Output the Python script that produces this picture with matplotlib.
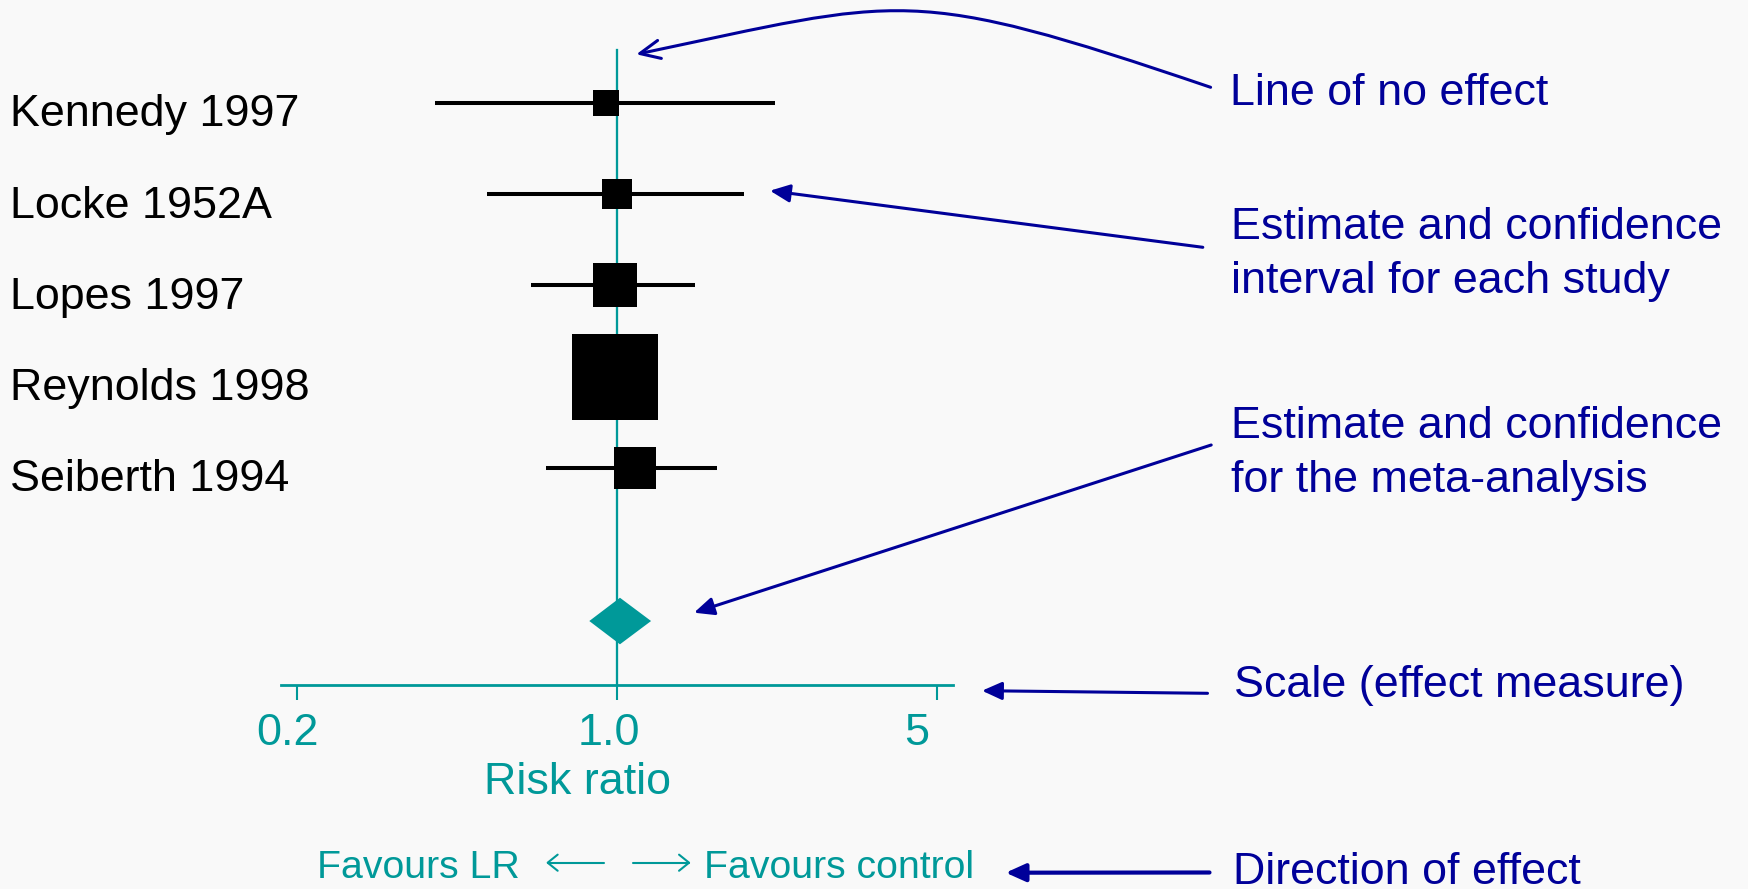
import matplotlib
matplotlib.use("Agg")
import matplotlib.pyplot as plt
import matplotlib.transforms as mtransforms
from matplotlib.patches import Polygon, FancyArrowPatch
from matplotlib.path import Path
from matplotlib.ticker import NullLocator

OUTPUT_FIG = "out.png"
W, H, DPI = 1748, 889, 100

STUDIES = ["Kennedy 1997", "Locke 1952A", "Lopes 1997", "Reynolds 1998", "Seiberth 1994"]
RISK_RATIO = [0.947, 1.00, 0.99, 0.99, 1.095]
CI_LOW = [0.40, 0.52, 0.65, 0.85, 0.70]
CI_HIGH = [2.21, 1.89, 1.48, 1.15, 1.65]
WEIGHTS = [5.5, 6.9, 15.3, 59.0, 13.3]  # % weight, drives the square size

POOLED = 1.015
POOLED_LOW = 0.87
POOLED_HIGH = 1.187

TICKS = [0.2, 1.0, 5.0]
TICK_LABELS = ["0.2", "1.0", "5"]

TEAL = "#009999"
NAVY = "#000099"
BG = "#F9F9F9"
FONT = ["Liberation Sans", "DejaVu Sans"]
FS = 32.3
FS_SMALL = 28.3


def px(x, y):
    # pixel position measured from the top-left corner -> figure fraction
    return x / W, 1 - y / H


def fig_arrow(fig, start, tip, style, color=NAVY, lw=2.2, ctrl=None):
    # straight arrow, or cubic curve through two control points
    if ctrl is None:
        verts, codes = [start, tip], [Path.MOVETO, Path.LINETO]
    else:
        verts = [start, ctrl[0], ctrl[1], tip]
        codes = [Path.MOVETO, Path.CURVE4, Path.CURVE4, Path.CURVE4]
    path = Path([px(*v) for v in verts], codes)
    arrow = FancyArrowPatch(path=path, arrowstyle=style, mutation_scale=20,
                            color=color, lw=lw, transform=fig.transFigure)
    fig.add_artist(arrow)


def main():
    plt.rcParams["font.family"] = FONT
    fig = plt.figure(figsize=(W / DPI, H / DPI), dpi=DPI, facecolor=BG)

    # forest axes: x from 281px to 953px, bottom spine is the scale line
    left, right, bottom = 281, 953.3, 685.3
    ax = fig.add_axes([left / W, 1 - bottom / H, (right - left) / W, bottom / H])
    ax.set_facecolor("none")
    ax.set_xscale("log")
    ax.set_xlim(0.1845, 5.429)
    ax.set_ylim(7.381, -0.125)

    for s in ("top", "right", "left"):
        ax.spines[s].set_visible(False)
    ax.spines["bottom"].set_color(TEAL)
    ax.spines["bottom"].set_linewidth(2.0)
    ax.set_yticks([])
    ax.set_xticks(TICKS, labels=TICK_LABELS)
    ax.xaxis.set_minor_locator(NullLocator())
    ax.tick_params(axis="x", colors=TEAL, length=11, width=1.5, pad=9, labelsize=FS)
    for lbl, dx in zip(ax.get_xticklabels(), [-10, -8, -20]):
        shift = mtransforms.ScaledTranslation(dx / DPI, 0, fig.dpi_scale_trans)
        lbl.set_transform(lbl.get_transform() + shift)

    # line of no effect
    ax.plot([1, 1], [0.423, 7.381], color=TEAL, lw=1.65, zorder=1)

    rows = list(range(1, len(STUDIES) + 1))
    for row, name, rr, lo, hi, w in zip(rows, STUDIES, RISK_RATIO, CI_LOW, CI_HIGH, WEIGHTS):
        ax.plot([lo, hi], [row, row], color="black", lw=2.9, solid_capstyle="butt", zorder=2)
        side_px = 11.26 * w ** 0.5
        ax.plot(rr, row, marker="s", markersize=side_px * 72 / DPI, color="black",
                markeredgewidth=0, zorder=3)
        ax.annotate(name, xy=(10, row), xycoords=("figure pixels", "data"),
                    xytext=(0, -23.5), textcoords="offset pixels",
                    ha="left", va="baseline", fontsize=FS, color="black",
                    annotation_clip=False)

    # pooled estimate diamond
    d_row, half = 6.677, 0.255
    diamond = Polygon([(POOLED_LOW, d_row), (POOLED, d_row - half),
                       (POOLED_HIGH, d_row), (POOLED, d_row + half)],
                      closed=True, facecolor=TEAL, edgecolor="none", zorder=3)
    ax.add_patch(diamond)

    fig.text(*px(578, 794.3), "Risk ratio", ha="center", va="baseline",
             fontsize=FS, color=TEAL)

    # direction of effect under the scale
    fig.text(*px(519.5, 877.5), "Favours LR", ha="right", va="baseline",
             fontsize=FS_SMALL, color=TEAL)
    fig.text(*px(703.5, 878.5), "Favours control", ha="left", va="baseline",
             fontsize=FS_SMALL, color=TEAL)
    thin = "->,head_length=0.36,head_width=0.29"
    fig_arrow(fig, (604, 862.7), (546, 862.7), thin, color=TEAL, lw=1.5)
    fig_arrow(fig, (632.7, 862.7), (690.7, 862.7), thin, color=TEAL, lw=1.5)

    # explanatory notes on the right
    notes = [
        (1230, 105.0, "Line of no effect"),
        (1231, 239.3, "Estimate and confidence"),
        (1231, 293.3, "interval for each study"),
        (1231, 438.3, "Estimate and confidence"),
        (1231, 492.0, "for the meta-analysis"),
        (1234, 696.7, "Scale (effect measure)"),
        (1233, 884.5, "Direction of effect"),
    ]
    for x, y, txt in notes:
        fig.text(*px(x, y), txt, ha="left", va="baseline", fontsize=FS, color=NAVY)

    open_head = "->,head_length=0.72,head_width=0.33"
    filled = "-|>,head_length=0.6,head_width=0.27"
    fig_arrow(fig, (1210.6, 87.3), (636.3, 54.3), open_head,
              ctrl=[(907, -15.9), (904, -1.9)])
    fig_arrow(fig, (1202.8, 247.3), (770.0, 190.7), filled)
    fig_arrow(fig, (1211.2, 445.0), (694.0, 612.7), filled)
    fig_arrow(fig, (1207.5, 693.3), (982.0, 690.7), filled)
    fig_arrow(fig, (1209.5, 872.5), (1005.7, 872.7), filled, lw=3.0)

    fig.savefig(OUTPUT_FIG, dpi=DPI, facecolor=fig.get_facecolor())


if __name__ == "__main__":
    main()
